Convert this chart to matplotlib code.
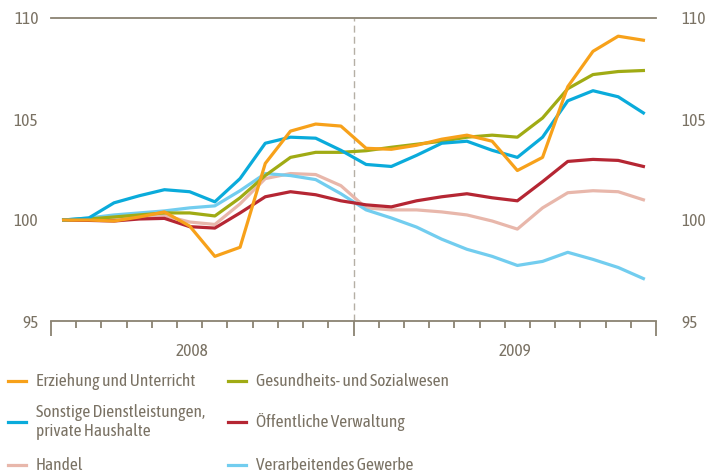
import numpy as np
import matplotlib
matplotlib.use("Agg")
import matplotlib.pyplot as plt
from matplotlib.lines import Line2D

plt.rcParams["font.family"] = ["Asap Condensed", "DejaVu Sans"]

# Monatswerte Jan 2008 - Dez 2009, Index Jan 2008 = 100
months = np.arange(24)
years = ["2008", "2009"]

erziehung = [100.0, 100.0, 99.95, 100.15, 100.4, 99.7, 98.2, 98.65, 102.8, 104.4, 104.75, 104.65,
             103.55, 103.5, 103.7, 104.0, 104.2, 103.9, 102.45, 103.1, 106.6, 108.35, 109.1, 108.9]
gesundheit = [100.0, 100.05, 100.15, 100.25, 100.35, 100.35, 100.2, 101.1, 102.2, 103.1, 103.35, 103.35,
              103.43, 103.6, 103.75, 103.9, 104.1, 104.2, 104.1, 105.05, 106.5, 107.2, 107.35, 107.4]
sonstige = [100.0, 100.1, 100.85, 101.2, 101.5, 101.4, 100.9, 102.05, 103.8, 104.1, 104.05, 103.45,
            102.75, 102.65, 103.2, 103.8, 103.9, 103.45, 103.1, 104.1, 105.9, 106.4, 106.1, 105.3]
verwaltung = [100.0, 99.98, 99.95, 100.05, 100.08, 99.67, 99.6, 100.35, 101.15, 101.4, 101.25, 100.95,
              100.75, 100.65, 100.95, 101.15, 101.3, 101.1, 100.95, 101.9, 102.9, 103.0, 102.95, 102.65]
handel = [100.0, 100.0, 100.05, 100.15, 100.22, 99.9, 99.78, 100.8, 102.05, 102.3, 102.25, 101.7,
          100.6, 100.5, 100.5, 100.4, 100.25, 99.95, 99.55, 100.6, 101.35, 101.45, 101.4, 101.0]
verarbeitend = [100.0, 100.1, 100.25, 100.35, 100.45, 100.6, 100.7, 101.45, 102.3, 102.2, 102.0, 101.3,
                100.5, 100.1, 99.65, 99.05, 98.55, 98.2, 97.75, 97.95, 98.4, 98.05, 97.65, 97.1]

labels = ["Erziehung und Unterricht", "Sonstige Dienstleistungen,\nprivate Haushalte", "Handel",
          "Gesundheits- und Sozialwesen", "Öffentliche Verwaltung", "Verarbeitendes Gewerbe"]
series = [erziehung, sonstige, handel, gesundheit, verwaltung, verarbeitend]
colors = ["#f7a11a", "#0aabdb", "#e8b7ab", "#a0ab14", "#b52633", "#72cdef"]
zorders = [6, 5, 1, 4, 3, 2]

txt = "#7a7264"
axc = "#8a8272"
fs = 12.5

fig = plt.figure(figsize=(7.1, 4.75), dpi=100)
ax = fig.add_axes([51 / 710, 1 - 321 / 475, 605 / 710, 303 / 475])

for s, c, z in zip(series, colors, zorders):
    ax.plot(months, s, color=c, lw=2.3, zorder=z)

ax.set_xlim(-0.5, 23.5)
ax.set_ylim(95, 110)
ax.axvline(11.5, color="#b5afa5", lw=1, ls=(0, (5, 3)), zorder=0)
ax.axhline(110, color=axc, lw=1.3, clip_on=False)

for sp in ["left", "right", "top"]:
    ax.spines[sp].set_visible(False)
ax.spines["bottom"].set_color(axc)
ax.spines["bottom"].set_linewidth(1.3)

ax.set_xticks([-0.5, 11.5, 23.5])
ax.set_xticks(np.arange(0.5, 23, 1), minor=True)
ax.tick_params(axis="x", which="major", length=11, width=1.3, color=axc, labelbottom=False)
ax.tick_params(axis="x", which="minor", length=5, width=1.3, color=axc)

ax.set_yticks([95, 100, 105, 110])
ax.tick_params(axis="y", length=0, labelleft=True, labelright=True, labelsize=fs,
               labelcolor=txt, pad=9)
for t in ax.yaxis.get_major_ticks():
    t.label2.set_x(1.0207)

for yr, xp in zip(years, [5.1, 17.9]):
    ax.text(xp, -0.102, yr, transform=ax.get_xaxis_transform(), ha="center", va="center",
            fontsize=fs, color=txt)

# Legende
rows_y = [381, 422, 465]
cols_x = [8, 228]
for i, (lab, c) in enumerate(zip(labels, colors)):
    col, row = divmod(i, 3)
    y = 1 - rows_y[row] / 475
    x0 = cols_x[col] / 710
    fig.add_artist(Line2D([x0, x0 + 18 / 710], [y, y], color=c, lw=2.3))
    fig.text(x0 + 28 / 710, y, lab, ha="left", va="center", fontsize=fs, color=txt, linespacing=1.1)

fig.savefig("out.png", dpi=100)
